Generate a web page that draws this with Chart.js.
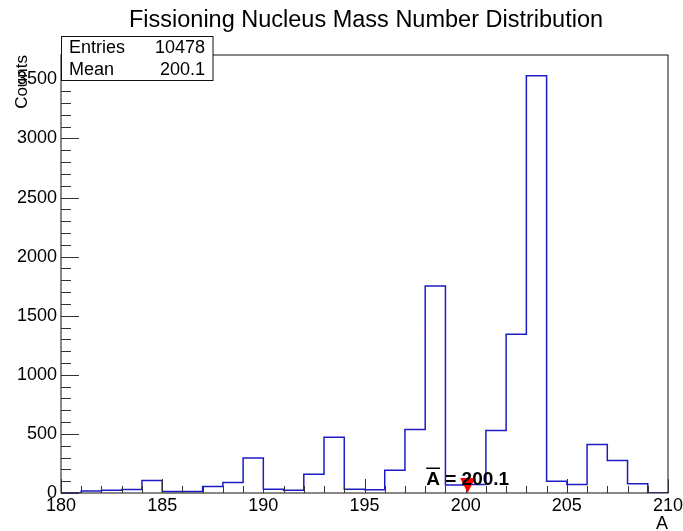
<!DOCTYPE html>
<html>
<head>
<meta charset="utf-8">
<title>Fissioning Nucleus Mass Number Distribution</title>
<script src="https://cdn.jsdelivr.net/npm/chart.js@4/dist/chart.umd.min.js"></script>
<style>
  html, body { margin: 0; padding: 0; background: #ffffff; }
  #wrap { width: 683px; height: 531px; position: relative; }
</style>
</head>
<body>
<div id="wrap"><canvas id="hist" width="683" height="531"></canvas></div>
<script>
// Histogram bins: lower edge of each unit-wide bin in mass number A
const binLowEdges = [180, 181, 182, 183, 184, 185, 186, 187, 188, 189,
                     190, 191, 192, 193, 194, 195, 196, 197, 198, 199,
                     200, 201, 202, 203, 204, 205, 206, 207, 208, 209];
// Counts per bin
const counts = [0, 17, 23, 29, 105, 12, 12, 54, 88, 297,
                31, 23, 158, 472, 31, 27, 192, 537, 1752, 68,
                71, 528, 1344, 3530, 99, 71, 410, 274, 79, 0];
// Axis tick labels
const xTickValues = [180, 185, 190, 195, 200, 205, 210];
const yTickValues = [0, 500, 1000, 1500, 2000, 2500, 3000, 3500];
// Statistics
const statsEntries = 10478;
const meanA = 200.1;

const titleText = 'Fissioning Nucleus Mass Number Distribution';
const xTitle = 'A';
const yTitle = 'Counts';

const FONT = "'Liberation Sans', Arial, Helvetica, sans-serif";
const binWidth = 1;
const yMax = Math.max(...counts) * 1.05;

// Step outline points: each bin value held from its lower edge to the next edge
const stepPoints = binLowEdges.map((a, i) => ({ x: a, y: counts[i] }));
stepPoints.push({ x: binLowEdges[binLowEdges.length - 1] + binWidth, y: counts[counts.length - 1] });

// Frame, inward tick marks, stats box, titles and the mean marker
const rootStyle = {
  id: 'rootStyle',
  afterDraw(chart) {
    const ctx = chart.ctx;
    const a = chart.chartArea;
    const xs = chart.scales.x;
    const ys = chart.scales.y;
    ctx.save();

    // frame
    ctx.strokeStyle = '#111';
    ctx.lineWidth = 1;
    ctx.strokeRect(a.left, a.top, a.right - a.left, a.bottom - a.top);

    // y ticks: major every 500, minor every 100
    ctx.strokeStyle = '#333';
    ctx.beginPath();
    for (let v = 0; v <= ys.max; v += 100) {
      const py = Math.round(ys.getPixelForValue(v)) + 0.5;
      const len = yTickValues.includes(v) ? 18 : 10;
      ctx.moveTo(a.left, py);
      ctx.lineTo(a.left + len, py);
    }
    // x ticks: major every 5, minor every 1
    for (let v = xs.min; v <= xs.max; v += 1) {
      const px = Math.round(xs.getPixelForValue(v)) + 0.5;
      const len = xTickValues.includes(v) ? 14 : 7;
      ctx.moveTo(px, a.bottom);
      ctx.lineTo(px, a.bottom - len);
    }
    ctx.stroke();

    // mean marker: red downward triangle, tip on the axis
    const mx = xs.getPixelForValue(meanA);
    const my = ys.getPixelForValue(0);
    ctx.fillStyle = '#ff0000';
    ctx.beginPath();
    ctx.moveTo(mx - 7.5, my - 15);
    ctx.lineTo(mx + 7.5, my - 15);
    ctx.lineTo(mx, my);
    ctx.closePath();
    ctx.fill();

    // mean label with overlined A
    ctx.font = 'bold 19px ' + FONT;
    ctx.fillStyle = '#000';
    ctx.textBaseline = 'alphabetic';
    const label = 'A = ' + meanA.toFixed(1);
    const lw = ctx.measureText(label).width;
    const lx = mx - lw / 2;
    const ly = my - 8;
    ctx.textAlign = 'left';
    ctx.fillText(label, lx, ly);
    const aw = ctx.measureText('A').width;
    ctx.fillRect(lx, ly - 17.5, aw, 1.5);

    // title
    ctx.font = '23.5px ' + FONT;
    ctx.textAlign = 'center';
    ctx.fillText(titleText, 366, 27);

    // stats box
    ctx.fillStyle = '#fff';
    ctx.fillRect(61, 36.5, 152, 44);
    ctx.strokeStyle = '#111';
    ctx.strokeRect(61.5, 36.5, 151.5, 44);
    ctx.fillStyle = '#000';
    ctx.font = '18px ' + FONT;
    ctx.textAlign = 'left';
    ctx.fillText('Entries', 69, 53);
    ctx.fillText('Mean', 69, 75);
    ctx.textAlign = 'right';
    ctx.fillText(String(statsEntries), 205, 53);
    ctx.fillText(meanA.toFixed(1), 205, 75);

    // axis titles
    ctx.font = '18px ' + FONT;
    ctx.textAlign = 'right';
    ctx.fillText(xTitle, a.right, 529);
    ctx.save();
    ctx.font = '17px ' + FONT;
    ctx.translate(27, a.top);
    ctx.rotate(-Math.PI / 2);
    ctx.textAlign = 'right';
    ctx.fillText(yTitle, 0, 0);
    ctx.restore();

    ctx.restore();
  }
};

new Chart(document.getElementById('hist'), {
  type: 'line',
  data: {
    datasets: [{
      data: stepPoints,
      stepped: 'before',
      borderColor: '#1c1cc4',
      borderWidth: 1.5,
      pointRadius: 0,
      fill: false,
      tension: 0
    }]
  },
  options: {
    responsive: false,
    animation: false,
    devicePixelRatio: 1,
    layout: { padding: { left: 0, right: 15, top: 55, bottom: 0 } },
    plugins: { legend: { display: false }, tooltip: { enabled: false }, title: { display: false } },
    scales: {
      x: {
        type: 'linear',
        min: 180,
        max: 210,
        grid: { display: false, drawTicks: false },
        border: { display: false },
        ticks: { font: { size: 18, family: FONT }, color: '#000', padding: 2, maxRotation: 0,
                 callback: v => String(v) },
        afterBuildTicks(scale) { scale.ticks = xTickValues.map(v => ({ value: v })); },
        afterFit(scale) { scale.height = 38; scale.paddingLeft = 0; scale.paddingRight = 0; }
      },
      y: {
        min: 0,
        max: yMax,
        grid: { display: false, drawTicks: false },
        border: { display: false },
        ticks: { font: { size: 18, family: FONT }, color: '#000', padding: 4,
                 callback: v => String(v) },
        afterBuildTicks(scale) { scale.ticks = yTickValues.map(v => ({ value: v })); },
        afterFit(scale) { scale.width = 61; }
      }
    }
  },
  plugins: [rootStyle]
});
</script>
</body>
</html>
